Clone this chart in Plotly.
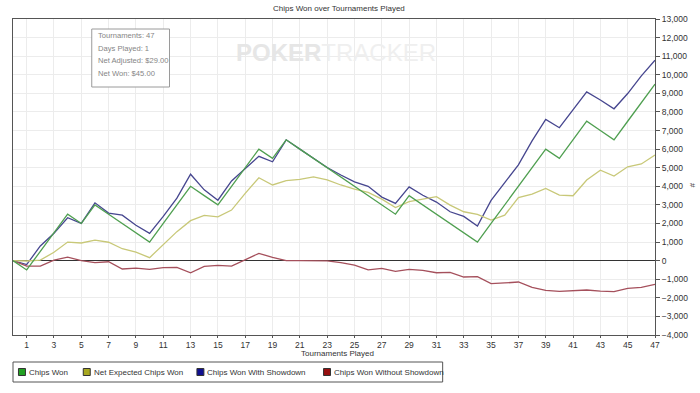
import plotly.graph_objects as go

# ---------------- data ----------------
tournaments = list(range(0, 48))
x_tick_values = [1, 3, 5, 7, 9, 11, 13, 15, 17, 19, 21, 23, 25, 27, 29, 31, 33, 35, 37, 39, 41, 43, 45, 47]
y_tick_values = [-4000, -3000, -2000, -1000, 0, 1000, 2000, 3000, 4000, 5000, 6000,
                 7000, 8000, 9000, 10000, 11000, 12000, 13000]

series_names = ["Chips Won", "Net Expected Chips Won", "Chips Won With Showdown", "Chips Won Without Showdown"]

chips_won = [0, -500, 500, 1500, 2500, 2000, 3000, 2500, 2000, 1500,
             1000, 2000, 3000, 4000, 3500, 3000, 4000, 5000, 6000, 5500,
             6500, 6000, 5500, 5000, 4500, 4000, 3500, 3000, 2500, 3500,
             3000, 2500, 2000, 1500, 1000, 2000, 3000, 4000, 5000, 6000,
             5500, 6500, 7500, 7000, 6500, 7500, 8500, 9500]

net_expected = [0, -20, 30, 450, 1000, 950, 1100, 990, 640, 460,
                160, 840, 1560, 2150, 2440, 2360, 2720, 3620, 4460, 4070,
                4300, 4370, 4510, 4340, 4070, 3850, 3670, 3310, 2860, 3170,
                3300, 3440, 2990, 2630, 2490, 2180, 2450, 3390, 3580, 3890,
                3530, 3490, 4340, 4870, 4550, 5050, 5200, 5680]

with_showdown = [0, -210, 790, 1470, 2310, 2000, 3110, 2560, 2450, 1900,
                 1470, 2380, 3360, 4650, 3810, 3250, 4290, 4950, 5610, 5320,
                 6500, 6000, 5500, 5010, 4610, 4240, 4000, 3420, 3080, 3970,
                 3520, 3150, 2630, 2380, 1860, 3240, 4200, 5150, 6440, 7600,
                 7150, 8120, 9080, 8640, 8170, 8990, 9940, 10780]

without_showdown = [0, -290, -290, 30, 190, 0, -110, -60, -450, -400,
                    -470, -380, -360, -650, -310, -250, -290, 50, 390, 180,
                    0, 0, 0, -10, -110, -240, -500, -420, -580, -470,
                    -520, -650, -630, -880, -860, -1240, -1200, -1150, -1440, -1600,
                    -1650, -1620, -1580, -1640, -1670, -1490, -1440, -1280]

info_lines = ["Tournaments: 47", "Days Played: 1", "Net Adjusted: $29.00", "Net Won: $45.00"]

# ---------------- styling ----------------
line_colors = ["#4f9f50", "#c8c878", "#46468f", "#a5505c"]
legend_colors = ["#22a022", "#a8a820", "#101090", "#961010"]
FONT = "Liberation Sans, Arial, sans-serif"

W, H = 700, 393
L, R, T, B = 13, 657, 19, 335


def px(x):
    return (x - L) / (R - L)


def py(y):
    return (B - y) / (B - T)


fig = go.Figure()
all_series = [chips_won, net_expected, with_showdown, without_showdown]
draw_order = [2, 3, 1, 0]
for i in draw_order:
    fig.add_trace(go.Scatter(
        x=tournaments, y=all_series[i], mode="lines", name=series_names[i],
        line=dict(color=line_colors[i], width=1.3), showlegend=False,
        hoverinfo="skip"))

shapes = []
annotations = []

# title
annotations.append(dict(xref="paper", yref="paper", x=px(340), y=py(8),
                        text="Chips Won over Tournaments Played", showarrow=False,
                        xanchor="center", yanchor="middle",
                        font=dict(family=FONT, size=8, color="#333")))

# info box
shapes.append(dict(type="rect", xref="paper", yref="paper",
                   x0=px(92), x1=px(170), y0=py(87), y1=py(29),
                   line=dict(color="#9a9a9a", width=1), fillcolor="white", layer="above"))
for k, txt in enumerate(info_lines):
    annotations.append(dict(xref="paper", yref="paper", x=px(96), y=py(36 + k * 12.4),
                            text=txt, showarrow=False, xanchor="left", yanchor="middle",
                            font=dict(family=FONT, size=7.6, color="#858585")))

# watermark
annotations.append(dict(xref="paper", yref="paper", x=px(337), y=py(52),
                        text="<b>POKER</b><span style='color:#efefef'>TRACKER</span>", showarrow=False,
                        xanchor="center", yanchor="middle",
                        font=dict(family="Liberation Sans Narrow, Arial Narrow, Liberation Sans, sans-serif",
                                  size=24, color="#e6e6e6")))

# x axis title
annotations.append(dict(xref="paper", yref="paper", x=px(339), y=py(353),
                        text="Tournaments Played", showarrow=False,
                        xanchor="center", yanchor="middle",
                        font=dict(family=FONT, size=8, color="#333")))

# y axis title
annotations.append(dict(xref="paper", yref="paper", x=px(694), y=py(186),
                        text="#", showarrow=False, textangle=90,
                        xanchor="center", yanchor="middle",
                        font=dict(family=FONT, size=8, color="#333")))

# custom legend
leg_top, leg_bot = 362, 382
shapes.append(dict(type="rect", xref="paper", yref="paper",
                   x0=px(13), x1=px(444), y0=py(leg_bot), y1=py(leg_top),
                   line=dict(color="#555", width=1), fillcolor="white"))
leg_sq_x = [22, 87, 201, 328]
leg_cy = (leg_top + leg_bot) / 2
for i, name in enumerate(series_names):
    cx = leg_sq_x[i]
    shapes.append(dict(type="rect", xref="paper", yref="paper",
                       x0=px(cx - 3.5), x1=px(cx + 3.5), y0=py(leg_cy + 3.5), y1=py(leg_cy - 3.5),
                       line=dict(color="#333", width=1), fillcolor=legend_colors[i]))
    annotations.append(dict(xref="paper", yref="paper", x=px(cx + 5), y=py(leg_cy),
                            text=name, showarrow=False, xanchor="left", yanchor="middle",
                            font=dict(family=FONT, size=8, color="#333")))

fig.update_layout(
    width=W, height=H,
    margin=dict(l=L, r=W - R, t=T, b=H - B, pad=0),
    paper_bgcolor="white", plot_bgcolor="white",
    showlegend=False,
    shapes=shapes, annotations=annotations,
    xaxis=dict(range=[0, 47], tickvals=x_tick_values, ticktext=[str(v) for v in x_tick_values],
               showgrid=True, gridcolor="#ececec", gridwidth=1,
               showline=True, linecolor="#555", linewidth=1, mirror=True,
               ticks="outside", ticklen=2, tickcolor="#555",
               tickfont=dict(family=FONT, size=8.5, color="#333"), zeroline=False, fixedrange=True),
    yaxis=dict(range=[-4000, 13000], tickvals=y_tick_values, side="right",
               tickformat=",d", showgrid=True, gridcolor="#ececec", gridwidth=1,
               showline=True, linecolor="#555", linewidth=1, mirror=True,
               ticks="outside", ticklen=4, tickcolor="#555",
               zeroline=True, zerolinecolor="#333", zerolinewidth=1,
               tickfont=dict(family=FONT, size=8.5, color="#333"),
               fixedrange=True),
)

fig.write_html("out.html", config={"displayModeBar": False, "staticPlot": True},
               post_script="document.body.style.margin='0';document.body.style.overflow='hidden';")
